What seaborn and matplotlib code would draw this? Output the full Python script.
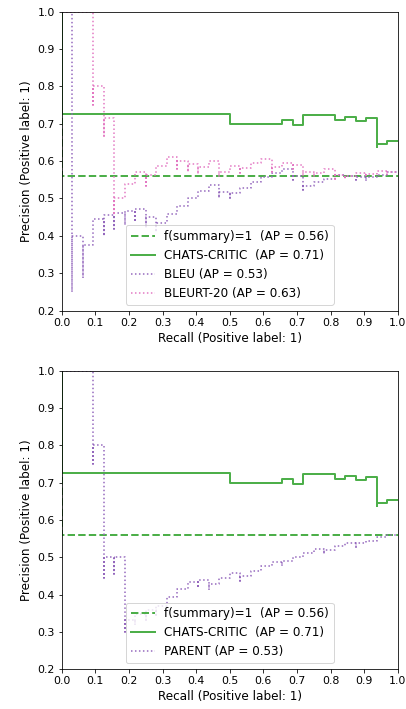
import matplotlib
matplotlib.use("Agg")
import matplotlib.pyplot as plt
import seaborn as sns
from matplotlib.ticker import MultipleLocator

# precision-recall step curves (recall increasing,
# each point = level of the step that ends at that recall)
baseline_recall = [0.0, 1.0]
baseline_precision = [1.0, 0.561]

critic_recall = [0.0, 0.5, 0.656, 0.688, 0.719, 0.812, 0.844, 0.875, 0.906,
                 0.938, 0.938, 0.969, 1.0]
critic_precision = [1.0, 0.727, 0.700, 0.710, 0.697, 0.722, 0.711, 0.718, 0.707,
                    0.714, 0.638, 0.646, 0.653]

bleu_recall = [0.0, 0.031, 0.031, 0.062, 0.062, 0.094, 0.125, 0.125, 0.156, 0.156,
               0.188, 0.188, 0.219, 0.219, 0.25, 0.25, 0.281, 0.281, 0.312, 0.344,
               0.375, 0.406, 0.438, 0.469, 0.469, 0.5, 0.5, 0.531, 0.562, 0.594,
               0.625, 0.656, 0.688, 0.688, 0.719, 0.719, 0.75, 0.781, 0.812, 0.844,
               0.844, 0.875, 0.875, 0.906, 0.906, 0.938, 0.969, 1.0]
bleu_precision = [1.0, 1.0, 0.25, 0.4, 0.286, 0.375, 0.444, 0.4, 0.455, 0.417,
                  0.462, 0.429, 0.467, 0.438, 0.471, 0.421, 0.45, 0.409, 0.435, 0.458,
                  0.48, 0.5, 0.519, 0.536, 0.5, 0.516, 0.5, 0.515, 0.529, 0.543,
                  0.556, 0.568, 0.579, 0.55, 0.561, 0.523, 0.533, 0.543, 0.553, 0.563,
                  0.551, 0.56, 0.549, 0.558, 0.547, 0.556, 0.564, 0.571]

bleurt_recall = [0.0, 0.094, 0.094, 0.125, 0.125, 0.156, 0.156, 0.188, 0.219, 0.25,
                 0.25, 0.281, 0.312, 0.344, 0.344, 0.375, 0.375, 0.406, 0.406, 0.438,
                 0.469, 0.469, 0.5, 0.531, 0.531, 0.562, 0.594, 0.625, 0.625, 0.656,
                 0.688, 0.688, 0.719, 0.719, 0.75, 0.75, 0.781, 0.812, 0.812, 0.844,
                 0.844, 0.875, 0.906, 0.906, 0.938, 0.969, 0.969, 1.0]
bleurt_precision = [1.0, 1.0, 0.75, 0.8, 0.667, 0.714, 0.455, 0.5, 0.538, 0.571,
                    0.533, 0.562, 0.588, 0.611, 0.579, 0.6, 0.571, 0.591, 0.565, 0.583,
                    0.6, 0.556, 0.571, 0.586, 0.567, 0.581, 0.594, 0.606, 0.571, 0.583,
                    0.595, 0.579, 0.59, 0.561, 0.571, 0.558, 0.568, 0.578, 0.553, 0.562,
                    0.551, 0.56, 0.569, 0.558, 0.566, 0.574, 0.564, 0.571]

parent_recall = [0.0, 0.094, 0.094, 0.125, 0.125, 0.156, 0.156, 0.188, 0.188, 0.219,
                 0.219, 0.25, 0.25, 0.281, 0.281, 0.312, 0.344, 0.375, 0.406, 0.406,
                 0.438, 0.438, 0.469, 0.5, 0.531, 0.531, 0.562, 0.594, 0.625, 0.656,
                 0.656, 0.688, 0.719, 0.75, 0.781, 0.781, 0.812, 0.844, 0.875, 0.875,
                 0.906, 0.938, 0.969, 1.0]
parent_precision = [1.0, 1.0, 0.75, 0.8, 0.444, 0.5, 0.455, 0.5, 0.3, 0.333,
                    0.318, 0.348, 0.333, 0.36, 0.346, 0.37, 0.393, 0.414, 0.433, 0.419,
                    0.438, 0.412, 0.429, 0.444, 0.459, 0.436, 0.45, 0.463, 0.476, 0.488,
                    0.477, 0.489, 0.5, 0.511, 0.521, 0.51, 0.52, 0.529, 0.538, 0.528,
                    0.537, 0.545, 0.554, 0.561]

GREEN = "#4daf4a"
PURPLE = "#9467bd"
PINK = "#e377c2"

plt.rcParams["font.size"] = 12
plt.rcParams["xtick.labelsize"] = 11
plt.rcParams["ytick.labelsize"] = 11


def draw_curve(ax, recall, precision, label, color, ls, lw):
    sns.lineplot(x=recall, y=precision, sort=False, estimator=None,
                 drawstyle="steps-pre", color=color, linestyle=ls,
                 linewidth=lw, label=label, ax=ax)


def style_axes(ax):
    ax.set_xlim(0.0, 1.0)
    ax.set_ylim(0.2, 1.0)
    ax.xaxis.set_major_locator(MultipleLocator(0.1))
    ax.yaxis.set_major_locator(MultipleLocator(0.1))
    ax.set_xlabel("Recall (Positive label: 1)")
    ax.set_ylabel("Precision (Positive label: 1)")
    ax.legend(loc="lower center", fontsize=12)


fig = plt.figure(figsize=(406 / 72, 709 / 72), dpi=72)
ax_top = fig.add_axes([0.152, 0.562, 0.828, 0.4217])
ax_bot = fig.add_axes([0.152, 0.056, 0.828, 0.4212])

draw_curve(ax_top, baseline_recall, baseline_precision,
           "f(summary)=1  (AP = 0.56)", GREEN, "--", 2)
draw_curve(ax_top, critic_recall, critic_precision,
           "CHATS-CRITIC  (AP = 0.71)", GREEN, "-", 2)
draw_curve(ax_top, bleu_recall, bleu_precision,
           "BLEU (AP = 0.53)", PURPLE, ":", 1.5)
draw_curve(ax_top, bleurt_recall, bleurt_precision,
           "BLEURT-20 (AP = 0.63)", PINK, ":", 1.5)
style_axes(ax_top)

draw_curve(ax_bot, baseline_recall, baseline_precision,
           "f(summary)=1  (AP = 0.56)", GREEN, "--", 2)
draw_curve(ax_bot, critic_recall, critic_precision,
           "CHATS-CRITIC  (AP = 0.71)", GREEN, "-", 2)
draw_curve(ax_bot, parent_recall, parent_precision,
           "PARENT (AP = 0.53)", PURPLE, ":", 1.5)
style_axes(ax_bot)

fig.savefig("out.png", dpi=72)
